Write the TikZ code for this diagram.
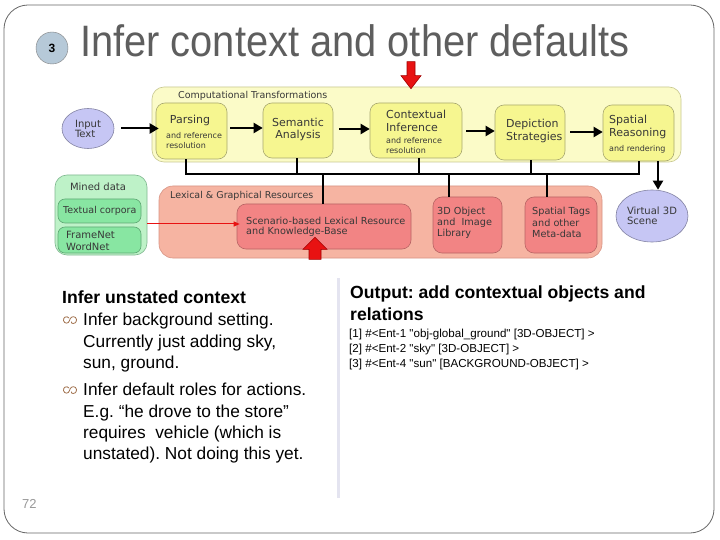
\documentclass[tikz,border=0pt]{standalone}
\usepackage{fontspec}
\setmainfont{Liberation Sans}
\newfontfamily\dejavu{DejaVu Sans}
\usetikzlibrary{arrows.meta,shapes.geometric}
\newcommand\fsz[1]{\fontsize{#1}{#1}\selectfont}
\frenchspacing
\definecolor{ybig}{HTML}{FBFBC8}
\definecolor{ybigline}{HTML}{C8C890}
\definecolor{ybox}{HTML}{F6F690}
\definecolor{yboxline}{HTML}{A8A870}
\definecolor{pbig}{HTML}{F6B4A2}
\definecolor{pbigline}{HTML}{D89484}
\definecolor{rbox}{HTML}{F28484}
\definecolor{rboxline}{HTML}{B86464}
\definecolor{gbig}{HTML}{BEF2C8}
\definecolor{gbigline}{HTML}{80B890}
\definecolor{gbox}{HTML}{88E6A2}
\definecolor{gboxline}{HTML}{5EA874}
\definecolor{oval}{HTML}{C6C6F4}
\definecolor{ovalline}{HTML}{8484A4}
\definecolor{txt}{HTML}{383838}
\definecolor{titlec}{HTML}{5E5E5E}
\definecolor{numc}{HTML}{B6C9D8}
\definecolor{blockred}{HTML}{E81212}
\definecolor{blockline}{HTML}{A00000}
\definecolor{bulc}{HTML}{A0704C}
\definecolor{divc}{HTML}{E4E4F0}
\begin{document}
\begin{tikzpicture}[x=1pt,y=-1pt,
  ybigst/.style={draw=ybigline, fill=ybig, rounded corners=12pt, line width=0.6pt, inner sep=0pt},
  yboxst/.style={draw=yboxline, fill=ybox, rounded corners=9pt, line width=0.6pt, inner sep=0pt},
  pbigst/.style={draw=pbigline, fill=pbig, rounded corners=14pt, line width=0.6pt, inner sep=0pt},
  rboxst/.style={draw=rboxline, fill=rbox, rounded corners=9pt, line width=0.6pt, inner sep=0pt},
  gbigst/.style={draw=gbigline, fill=gbig, rounded corners=12pt, line width=0.6pt, inner sep=0pt},
  gboxst/.style={draw=gboxline, fill=gbox, rounded corners=7pt, line width=0.6pt, inner sep=0pt},
  ovalst/.style={ellipse, draw=ovalline, fill=oval, line width=0.6pt, inner sep=0pt, align=left, font=\dejavu\fsz{10}, text=txt},
  lbl/.style={font=\dejavu\fsz{11}, text=txt, inner sep=0pt},
  lblw/.style={lbl, anchor=west},
  smallw/.style={font=\dejavu\fsz{8}, text=txt, inner sep=0pt, anchor=west},
  resw/.style={font=\dejavu\fsz{9.7}, text=txt, inner sep=0pt, anchor=west},
  arr/.style={line width=2pt, -{Triangle[length=9pt,width=10pt]}},
  busst/.style={line width=2.5pt},
  redline/.style={draw=blockred, line width=1pt, -{Triangle[length=6pt,width=5pt]}},
  blockarr/.style={draw=blockline, fill=blockred, line width=0.6pt, line join=miter},
  body/.style={font=\fsz{17.3}, anchor=base west, inner sep=0pt, text=black},
  bodyb/.style={body, font=\bfseries\fsz{17.6}},
  mono/.style={font=\fsz{11.6}, anchor=base west, inner sep=0pt, text=black},
  bul/.pic={\draw[bulc, line width=0.8pt] (-1,-2) .. controls (-3,-4.5) and (-7,-3) .. (-6.5,0.5)
     .. controls (-6,4) and (-1,4) .. (-0.5,0.5)
     .. controls (0,-2.5) and (3,-4.5) .. (5.5,-2.5)
     .. controls (7.5,-0.5) and (6.5,3.5) .. (3,3.5)
     .. controls (1.5,3.5) and (1,2.5) .. (1.5,1.5);}
]
\useasboundingbox (0,0) rectangle (720,540);
\fill[white] (0,0) rectangle (720,540);
% slide frame
\draw[gray!80!black, line width=0.8pt, rounded corners=24pt] (4,5) rectangle (714,533);

% title
\node[circle, draw=gray, fill=numc, minimum size=32pt, inner sep=0pt, font=\bfseries\fsz{12}] (num) at (52,48) {3};
\node[anchor=base west, inner sep=0pt, font=\fsz{44}, text=titlec, xscale=0.905] (title) at (80,57) {Infer context and other defaults};

% computational transformations
\node[ybigst, minimum width=529pt, minimum height=75pt] (ybigbox) at (416.5,124.5) {};
\node[font=\dejavu\fsz{9.5}, text=txt, inner sep=0pt, anchor=west] (ctlabel) at (178,96) {Computational Transformations};
\node[yboxst, minimum width=71pt, minimum height=56pt] (parse) at (191.5,131) {};
\node[yboxst, minimum width=70pt, minimum height=55pt] (sem) at (298,130.5) {};
\node[yboxst, minimum width=92pt, minimum height=55pt] (ctx) at (416,130.5) {};
\node[yboxst, minimum width=70pt, minimum height=55pt] (dep) at (530,132.5) {};
\node[yboxst, minimum width=71pt, minimum height=56pt] (spat) at (638.5,133) {};

\node[lbl] (parseT) at (190,120) {Parsing};
\node[smallw] (parseA) at (166,136) {and reference};
\node[smallw] (parseB) at (166,145.5) {resolution};
\node[lbl] (semT1) at (298,122) {Semantic};
\node[lbl] (semT2) at (298,135.5) {Analysis};
\node[lblw] (ctxT1) at (386,114) {Contextual};
\node[lblw] (ctxT2) at (386,127.5) {Inference};
\node[smallw] (ctxA) at (386,141) {and reference};
\node[smallw] (ctxB) at (386,151) {resolution};
\node[lblw] (depT1) at (506,124) {Depiction};
\node[lblw] (depT2) at (506,137.5) {Strategies};
\node[lblw] (spatT1) at (609,120) {Spatial};
\node[lblw] (spatT2) at (609,133.5) {Reasoning};
\node[smallw] (spatA) at (609,149) {and rendering};

% input / output ovals
\node[ovalst, minimum width=52pt, minimum height=40pt] (input) at (88,128.5) {Input\\Text};
\node[ovalst, minimum width=72pt, minimum height=52pt] (virt) at (652,216) {Virtual 3D\\Scene};

% arrows in the pipeline
\draw[arr] ([xshift=7pt]input.east) -- ([xshift=7pt]input.east -| ybigbox.west);
\draw[arr] ([xshift=3pt,yshift=3pt]parse.east) -- ([yshift=3pt]parse.east -| sem.west);
\draw[arr] ([xshift=6pt,yshift=1.5pt]sem.east) -- ([yshift=1.5pt]sem.east -| ctx.west);
\draw[arr] ([xshift=4pt,yshift=-0.5pt]ctx.east) -- ([yshift=-0.5pt]ctx.east -| dep.west);
\draw[arr] ([xshift=5pt,yshift=0.5pt]dep.east) -- ([yshift=0.5pt]dep.east -| spat.west);

% resources
\node[pbigst, minimum width=443pt, minimum height=72pt] (pbigbox) at (380.5,222) {};
\node[font=\dejavu\fsz{9.5}, text=txt, inner sep=0pt, anchor=west] (lglabel) at (170,196) {Lexical \& Graphical Resources};
\node[rboxst, minimum width=174pt, minimum height=45pt] (scen) at (324,226.5) {};
\node[rboxst, minimum width=69pt, minimum height=56pt] (obj) at (467.5,225) {};
\node[rboxst, minimum width=72pt, minimum height=56pt] (tags) at (561,225) {};
\node[resw] (scenT1) at (246,221) {Scenario-based Lexical Resource};
\node[resw] (scenT2) at (246,232) {and Knowledge-Base};
\node[resw] (objT1) at (437,212) {3D Object};
\node[resw] (objT2) at (437,223) {and\ \ Image};
\node[resw] (objT3) at (437,234) {Library};
\node[resw] (tagsT1) at (532,212) {Spatial Tags};
\node[resw] (tagsT2) at (532,223) {and other};
\node[resw] (tagsT3) at (532,234) {Meta-data};

% mined data
\node[gbigst, minimum width=92pt, minimum height=80pt] (green) at (101,215) {};
\node[font=\dejavu\fsz{10}, text=txt, inner sep=0pt] (mdlabel) at (98,187) {Mined data};
\node[gboxst, minimum width=83pt, minimum height=24pt] (tc) at (99.5,211) {};
\node[gboxst, minimum width=83pt, minimum height=26pt] (fn) at (99.5,240) {};
\node[font=\dejavu\fsz{9.5}, text=txt, inner sep=0pt, anchor=west] (tcT) at (63,211) {Textual corpora};
\node[font=\dejavu\fsz{10}, text=txt, inner sep=0pt, anchor=west] (fnT1) at (66,235) {FrameNet};
\node[font=\dejavu\fsz{10}, text=txt, inner sep=0pt, anchor=west] (fnT2) at (66,247) {WordNet};

% bus
\coordinate (bus) at (0,174);
\draw[busst] ([xshift=-5.5pt]parse.south) |- ([xshift=0.5pt]spat.south |- bus) -- ([xshift=0.5pt]spat.south);
\draw[busst] ([xshift=-1pt]sem.south) -- ([xshift=-1pt]sem.south |- bus);
\draw[busst] ([xshift=3pt]ctx.south) -- ([xshift=3pt]ctx.south |- bus);
\draw[busst] ([xshift=1pt]dep.south) -- ([xshift=1pt]dep.south |- bus);
\draw[busst] ([xshift=-1pt]scen.north |- bus) -- ([xshift=-1pt]scen.north);
\draw[busst] ([xshift=-18.5pt]obj.north |- bus) -- ([xshift=-18.5pt]obj.north);
\draw[busst] ([xshift=-14pt]tags.north |- bus) -- ([xshift=-14pt]tags.north);
\draw[arr] ([xshift=19.5pt]spat.south) -- ([xshift=19.5pt]spat.south |- virt.north);

% red connector
\coordinate (ry) at (0,224);
\draw[redline] (green.east |- ry) -- ([xshift=3pt]scen.west |- ry);

% block arrows
\coordinate (tipA) at ([xshift=-5.5pt,yshift=-2pt]ybigbox.north);
\draw[blockarr] (tipA) -- ++(-10,-13) -- ++(6,0) -- ++(0,-14) -- ++(8,0) -- ++(0,14) -- ++(6,0) -- cycle;
\coordinate (tipB) at ([xshift=-9pt,yshift=12pt]scen.south);
\draw[blockarr] (tipB) -- ++(12,12) -- ++(-6,0) -- ++(0,10) -- ++(-12,0) -- ++(0,-10) -- ++(-6,0) -- cycle;

% divider
\draw[divc, line width=3pt] (338,278) -- (338,498);

% left text
\node[bodyb] (l0) at (62,303) {Infer unstated context};
\pic at (70,320) {bul};
\node[body] (l1) at (83,325) {Infer background setting.};
\node[body] (l2) at (83,347) {Currently just adding sky,};
\node[body] (l3) at (83,368) {sun, ground.};
\pic at (70,390) {bul};
\node[body] (l4) at (83,395) {Infer default roles for actions.};
\node[body] (l5) at (83,417) {E.g. “he drove to the store”};
\node[body] (l6) at (83,438) {requires\ \ vehicle (which is};
\node[body] (l7) at (83,459) {unstated). Not doing this yet.};

% right text
\node[bodyb] (r0) at (350,298) {Output: add contextual objects and};
\node[bodyb] (r1) at (350,320) {relations};
\node[mono] (r2) at (349,337) {[1] \#<Ent-1 \textquotedbl obj-global\_ground\textquotedbl\ [3D-OBJECT] >};
\node[mono] (r3) at (349,352) {[2] \#<Ent-2 \textquotedbl sky\textquotedbl\ [3D-OBJECT] >};
\node[mono] (r4) at (349,367) {[3] \#<Ent-4 \textquotedbl sun\textquotedbl\ [BACKGROUND-OBJECT] >};

% page number
\node[anchor=base west, inner sep=0pt, font=\fsz{13}, text=gray!80] (pg) at (22,508) {72};
\end{tikzpicture}
\end{document}
